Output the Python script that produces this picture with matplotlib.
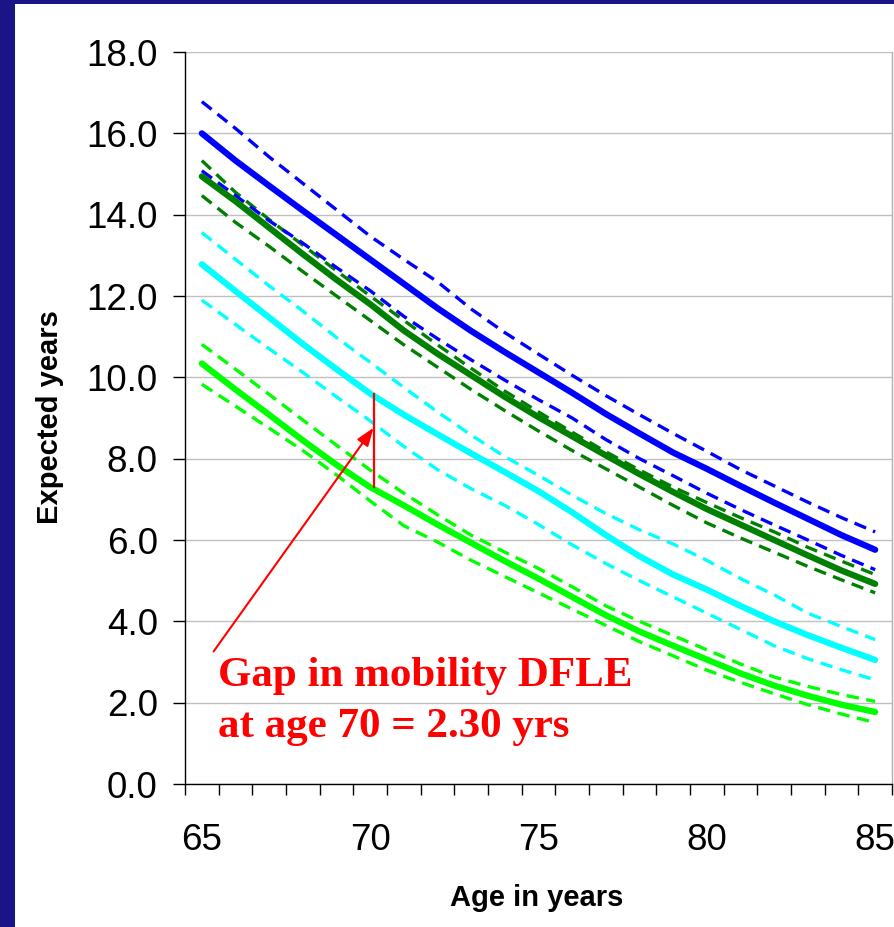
import matplotlib
matplotlib.use("Agg")
import matplotlib.pyplot as plt
from matplotlib.patches import Rectangle
from matplotlib.ticker import FixedLocator, NullFormatter

# ---------------- data ----------------
ages = list(range(65, 86))

blue_hi = [16.78, 16.12, 15.42, 14.77, 14.12, 13.47, 12.90, 12.35, 11.68, 11.10, 10.57,
           10.05, 9.55, 9.08, 8.62, 8.18, 7.73, 7.33, 6.93, 6.55, 6.20]
blue_mid = [16.00, 15.33, 14.71, 14.10, 13.50, 12.90, 12.30, 11.70, 11.14, 10.62, 10.12,
            9.62, 9.10, 8.62, 8.15, 7.75, 7.33, 6.92, 6.52, 6.12, 5.76]
blue_lo = [15.08, 14.47, 13.85, 13.30, 12.70, 12.13, 11.50, 10.95, 10.43, 9.93, 9.45,
           9.00, 8.47, 8.00, 7.58, 7.15, 6.75, 6.37, 6.00, 5.62, 5.27]

green_hi = [15.33, 14.55, 13.88, 13.25, 12.62, 12.00, 11.40, 10.80, 10.22, 9.66, 9.15,
            8.65, 8.17, 7.72, 7.30, 6.92, 6.55, 6.20, 5.82, 5.48, 5.15]
green_mid = [14.94, 14.33, 13.68, 13.03, 12.40, 11.80, 11.15, 10.58, 10.05, 9.52, 9.02,
             8.55, 8.08, 7.62, 7.18, 6.76, 6.38, 6.00, 5.62, 5.25, 4.92]
green_lo = [14.47, 13.81, 13.22, 12.60, 12.00, 11.40, 10.80, 10.25, 9.70, 9.18, 8.68,
            8.20, 7.75, 7.30, 6.85, 6.42, 6.05, 5.70, 5.35, 5.02, 4.70]

cyan_hi = [13.56, 12.90, 12.25, 11.63, 10.98, 10.37, 9.75, 9.15, 8.58, 8.05, 7.59,
           7.10, 6.65, 6.25, 5.90, 5.50, 5.05, 4.65, 4.20, 3.87, 3.55]
cyan_mid = [12.78, 12.12, 11.47, 10.82, 10.20, 9.60, 9.08, 8.60, 8.13, 7.67, 7.20,
            6.68, 6.12, 5.60, 5.15, 4.78, 4.38, 4.00, 3.66, 3.35, 3.05]
cyan_lo = [11.90, 11.30, 10.70, 10.12, 9.52, 8.93, 8.30, 7.73, 7.26, 6.85, 6.38,
           5.88, 5.42, 5.00, 4.60, 4.20, 3.80, 3.40, 3.08, 2.81, 2.56]

lime_hi = [10.81, 10.20, 9.58, 8.95, 8.33, 7.72, 7.15, 6.62, 6.12, 5.70, 5.30,
           4.85, 4.38, 4.00, 3.65, 3.30, 2.95, 2.63, 2.40, 2.20, 2.03]
lime_mid = [10.34, 9.70, 9.08, 8.45, 7.85, 7.30, 6.85, 6.38, 5.93, 5.48, 5.05,
            4.60, 4.15, 3.75, 3.40, 3.06, 2.72, 2.42, 2.17, 1.95, 1.77]
lime_lo = [9.83, 9.29, 8.75, 8.20, 7.60, 6.96, 6.35, 5.95, 5.50, 5.10, 4.70,
           4.30, 3.90, 3.50, 3.15, 2.80, 2.50, 2.22, 1.95, 1.72, 1.51]

y_ticks = [0, 2, 4, 6, 8, 10, 12, 14, 16, 18]
x_labels = [65, 70, 75, 80, 85]
gap_age = 70
gap_text = ["Gap in mobility DFLE", "at age 70 = 2.30 yrs"]

# ---------------- figure ----------------
W, H = 894, 927
fig = plt.figure(figsize=(W / 100, H / 100), dpi=100)
fig.patch.set_facecolor("white")
navy = "#1b1488"
fig.patches.append(Rectangle((0, 0), 15 / W, 1, transform=fig.transFigure,
                             facecolor=navy, edgecolor="none", zorder=0))
fig.patches.append(Rectangle((0, 1 - 4 / H), 1, 4 / H, transform=fig.transFigure,
                             facecolor=navy, edgecolor="none", zorder=0))

L, R, T, B = 185, 892, 52, 784
ax = fig.add_axes([L / W, (H - B) / H, (R - L) / W, (B - T) / H])
ax.set_facecolor("white")

dash_kw = dict(lw=2.4, dashes=(3.75, 2.25))
solid_kw = dict(lw=4.5, solid_capstyle="round", solid_joinstyle="round")

series = [
    ("#00FF00", lime_hi, lime_mid, lime_lo),
    ("#00FFFF", cyan_hi, cyan_mid, cyan_lo),
    ("#008000", green_hi, green_mid, green_lo),
    ("#0000FF", blue_hi, blue_mid, blue_lo),
]
for col, hi, mid, lo in series:
    ax.plot(ages, hi, color=col, zorder=3, **dash_kw)
    ax.plot(ages, lo, color=col, zorder=3, **dash_kw)
for col, hi, mid, lo in series:
    ax.plot(ages, mid, color=col, zorder=4, **solid_kw)

ax.set_xlim(64.5, 85.5)
ax.set_ylim(0, 18)

# y axis
ax.set_yticks(y_ticks)
ax.set_yticklabels([f"{v:.1f}" for v in y_ticks])
ax.tick_params(axis="y", direction="out", length=8.6, width=1.0, pad=11,
               labelsize=26.5, colors="black")
ax.grid(axis="y", color="#c0c0c0", lw=1.0, zorder=1)
ax.set_axisbelow(True)

# x axis: ticks between categories, labels at category centres
ax.xaxis.set_major_locator(FixedLocator([a - 0.5 for a in ages] + [ages[-1] + 0.5]))
ax.xaxis.set_major_formatter(NullFormatter())
ax.xaxis.set_minor_locator(FixedLocator(x_labels))
ax.set_xticklabels([str(v) for v in x_labels], minor=True)
ax.tick_params(axis="x", which="major", direction="out", length=8, width=1.0)
ax.tick_params(axis="x", which="minor", length=0, pad=28, labelsize=26.5)

for lab in ax.get_xticklabels(minor=True) + ax.get_yticklabels():
    lab.set_fontfamily("Liberation Sans")

ax.spines["top"].set_visible(False)
ax.spines["right"].set_color("#b0b0b0")
ax.spines["right"].set_linewidth(1.0)
ax.spines["left"].set_color("black")
ax.spines["bottom"].set_color("black")
ax.spines["left"].set_linewidth(1.0)
ax.spines["bottom"].set_linewidth(1.0)

# axis titles
fig.text(537 / W, (H - 906) / H, "Age in years", ha="center", va="baseline",
         fontsize=21, fontweight="bold", family="Liberation Sans")
fig.text(50 / W, (H - 417) / H, "Expected years", ha="center", va="center",
         rotation=90, fontsize=21, fontweight="bold", family="Liberation Sans")

# gap annotation
i70 = ages.index(gap_age)
ax.plot([gap_age + 0.1, gap_age + 0.1], [cyan_mid[i70], lime_mid[i70]],
        color="red", lw=1.6, zorder=6)
ax.annotate("", xy=(gap_age + 0.1, 8.76), xytext=(65.35, 3.26),
            arrowprops=dict(arrowstyle="-|>,head_length=0.55,head_width=0.2",
                            mutation_scale=20, color="red", lw=1.5,
                            shrinkA=0, shrinkB=0), zorder=6)
fig.text(218 / W, (H - 686) / H, gap_text[0], ha="left", va="baseline",
         fontsize=31, fontweight="bold", family="Liberation Serif", color="red")
fig.text(218 / W, (H - 737) / H, gap_text[1], ha="left", va="baseline",
         fontsize=31, fontweight="bold", family="Liberation Serif", color="red")

fig.savefig("out.png", dpi=100, facecolor=fig.get_facecolor())
